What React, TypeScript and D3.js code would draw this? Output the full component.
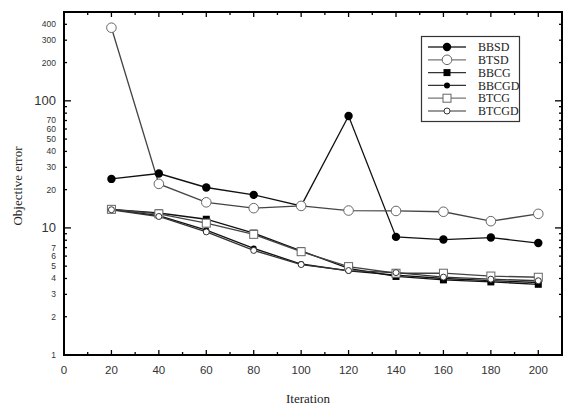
import React, { useEffect, useRef } from 'react';
import * as d3 from 'd3';

const iterations = [20, 40, 60, 80, 100, 120, 140, 160, 180, 200];
const bbsd = [24.3, 26.8, 20.8, 18.2, 14.9, 76, 8.5, 8.1, 8.4, 7.6];
const btsd = [376, 22.2, 15.9, 14.3, 14.9, 13.7, 13.6, 13.4, 11.3, 12.9];
const bbcg = [14.0, 13.1, 11.7, 9.1, 6.6, 4.8, 4.15, 3.9, 3.76, 3.6];
const bbcgd = [14.0, 12.5, 9.6, 6.9, 5.2, 4.6, 4.25, 4.0, 3.85, 3.72];
const btcg = [14.0, 12.9, 10.9, 8.9, 6.5, 4.96, 4.4, 4.4, 4.18, 4.09];
const btcgd = [13.9, 12.3, 9.3, 6.65, 5.15, 4.62, 4.45, 4.1, 3.95, 3.84];
const seriesNames = ['BBSD', 'BTSD', 'BBCG', 'BBCGD', 'BTCG', 'BTCGD'];
const yTickLabels = [1, 2, 3, 4, 5, 6, 7, 10, 20, 30, 40, 50, 60, 70, 100, 200, 300, 400];
const xTickLabels = [0, 20, 40, 60, 80, 100, 120, 140, 160, 180, 200];

const W = 570;
const H = 406;

const App = () => {
  const svgRef = useRef(null);

  useEffect(() => {
    const svg = d3.select(svgRef.current);
    svg.selectAll('*').remove();

    const left = 64, right = 562, top = 12, bottom = 355;
    const x = d3.scaleLinear().domain([0, 210]).range([left, right]);
    const y = d3.scaleLog().domain([1, 500]).range([bottom, top]);

    const g = svg.append('g');

    // frame
    g.append('rect')
      .attr('x', left).attr('y', top)
      .attr('width', right - left).attr('height', bottom - top)
      .attr('fill', 'none').attr('stroke', '#000').attr('stroke-width', 2);

    // x ticks (inward, top and bottom)
    const xMinor = d3.range(10, 210, 10);
    xMinor.forEach(v => {
      const len = v % 20 === 0 ? 5 : 3;
      g.append('line').attr('x1', x(v)).attr('x2', x(v)).attr('y1', bottom).attr('y2', bottom - len)
        .attr('stroke', '#000').attr('stroke-width', 1.3);
      g.append('line').attr('x1', x(v)).attr('x2', x(v)).attr('y1', top).attr('y2', top + len)
        .attr('stroke', '#000').attr('stroke-width', 1.3);
    });

    g.selectAll('.xlab')
      .data(xTickLabels)
      .enter().append('text')
      .attr('x', d => x(d)).attr('y', 374)
      .attr('text-anchor', 'middle')
      .attr('font-family', 'Liberation Sans, Arial, sans-serif')
      .attr('font-size', 11.5).attr('fill', '#333')
      .text(d => d);

    // y ticks
    const yTicks: number[] = [];
    [1, 10, 100].forEach(dec => {
      for (let k = 1; k < 10; k++) if (dec * k <= 500) yTicks.push(dec * k);
    });
    yTicks.forEach(v => {
      const major = v === 1 || v === 10 || v === 100;
      const len = major ? 7 : 3;
      g.append('line').attr('x1', left).attr('x2', left + len).attr('y1', y(v)).attr('y2', y(v))
        .attr('stroke', '#000').attr('stroke-width', 1.3);
      g.append('line').attr('x1', right).attr('x2', right - len).attr('y1', y(v)).attr('y2', y(v))
        .attr('stroke', '#000').attr('stroke-width', 1.3);
    });

    g.selectAll('.ylab')
      .data(yTickLabels)
      .enter().append('text')
      .attr('x', 56).attr('y', d => y(d))
      .attr('dy', '0.35em')
      .attr('text-anchor', 'end')
      .attr('font-family', 'Liberation Sans, Arial, sans-serif')
      .attr('font-size', d => (d === 10 || d === 100 ? 13 : 8.5))
      .attr('fill', '#333')
      .text(d => d);

    // axis titles
    g.append('text')
      .attr('x', 308).attr('y', 403)
      .attr('text-anchor', 'middle')
      .attr('font-family', 'Liberation Serif, Times New Roman, serif')
      .attr('font-size', 13).attr('fill', '#222')
      .text('Iteration');

    g.append('text')
      .attr('transform', 'translate(22,186) rotate(-90)')
      .attr('text-anchor', 'middle')
      .attr('font-family', 'Liberation Serif, Times New Roman, serif')
      .attr('font-size', 13).attr('fill', '#222')
      .text('Objective error');

    const allSeries = [bbsd, btsd, bbcg, bbcgd, btcg, btcgd];
    const lineColors = ['#111', '#444', '#111', '#111', '#444', '#333'];

    const drawMarker = (sel, i: number, cx: number, cy: number) => {
      if (i === 0) sel.append('circle').attr('cx', cx).attr('cy', cy).attr('r', 4.2).attr('fill', '#000');
      if (i === 1) sel.append('circle').attr('cx', cx).attr('cy', cy).attr('r', 4.8).attr('fill', '#fff').attr('stroke', '#666').attr('stroke-width', 1);
      if (i === 2) sel.append('rect').attr('x', cx - 3.5).attr('y', cy - 3.5).attr('width', 7).attr('height', 7).attr('fill', '#000');
      if (i === 3) sel.append('circle').attr('cx', cx).attr('cy', cy).attr('r', 3).attr('fill', '#000');
      if (i === 4) sel.append('rect').attr('x', cx - 4).attr('y', cy - 4).attr('width', 8).attr('height', 8).attr('fill', '#fff').attr('stroke', '#666').attr('stroke-width', 1);
      if (i === 5) sel.append('circle').attr('cx', cx).attr('cy', cy).attr('r', 3).attr('fill', '#fff').attr('stroke', '#333').attr('stroke-width', 1);
    };

    const line = d3.line<number>()
      .x((d, i) => x(iterations[i]))
      .y(d => y(d));

    allSeries.forEach((vals, i) => {
      g.append('path')
        .attr('d', line(vals))
        .attr('fill', 'none')
        .attr('stroke', lineColors[i])
        .attr('stroke-width', 1.3);
    });
    allSeries.forEach((vals, i) => {
      const mg = g.append('g');
      vals.forEach((v, j) => drawMarker(mg, i, x(iterations[j]), y(v)));
    });

    // legend
    const lg = g.append('g');
    lg.append('rect')
      .attr('x', 421.5).attr('y', 36.5).attr('width', 98).attr('height', 85)
      .attr('fill', '#fff').attr('stroke', '#333').attr('stroke-width', 1.2);
    seriesNames.forEach((name, i) => {
      const ly = 47 + i * 12.8;
      lg.append('line').attr('x1', 428).attr('x2', 466).attr('y1', ly).attr('y2', ly)
        .attr('stroke', i === 1 || i === 4 || i === 5 ? '#777' : '#333').attr('stroke-width', 1.3);
      drawMarker(lg, i, 447, ly);
      lg.append('text')
        .attr('x', 478).attr('y', ly).attr('dy', '0.35em')
        .attr('font-family', 'Liberation Serif, Times New Roman, serif')
        .attr('font-size', 12).attr('fill', '#222')
        .text(name);
    });
  }, []);

  return (
    <svg ref={svgRef} width={W} height={H}
      style={{ position: 'absolute', left: 0, top: 0, background: '#fff' }} />
  );
};

export default App;
